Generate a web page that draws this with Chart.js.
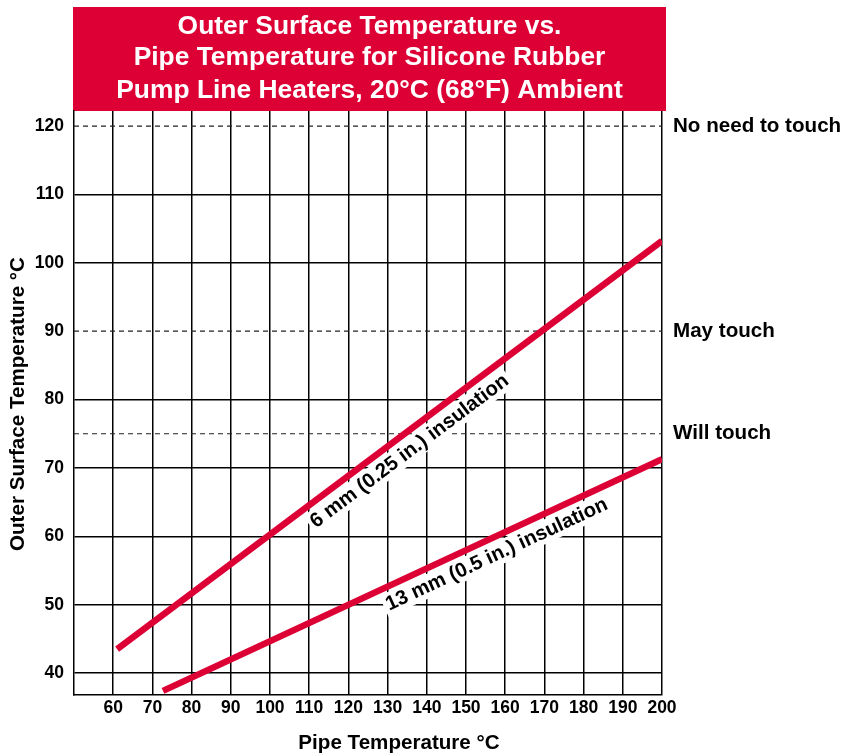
<!DOCTYPE html>
<html><head><meta charset="utf-8">
<script src="https://cdn.jsdelivr.net/npm/chart.js@4"></script>
<style>html,body{margin:0;padding:0;background:#fff}#wrap{width:843px;height:755px;position:relative}</style>
</head><body><div id="wrap"><canvas id="c"></canvas></div>
<script>
const titleLines = ["Outer Surface Temperature vs.", "Pipe Temperature for Silicone Rubber", "Pump Line Heaters, 20°C (68°F) Ambient"];
const xTitle = "Pipe Temperature °C";
const yTitle = "Outer Surface Temperature °C";
const xTicks = [60,70,80,90,100,110,120,130,140,150,160,170,180,190,200];
const yTicks = [40,50,60,70,80,90,100,110,120];
const pipeTemp6 = [61, 200];
const surface6 = [43.5, 103.2];
const pipeTemp13 = [72.7, 200];
const surface13 = [37.4, 71.3];
const seriesLabels = ["6 mm (0.25 in.) insulation", "13 mm (0.5 in.) insulation"];
const labelAt = [133, 156];
const refLevels = [120, 90, 75];
const refLabels = ["No need to touch", "May touch", "Will touch"];

const RED = '#dc0035';
const FONT = '"Liberation Sans", Arial, Helvetica, sans-serif';

function pts(xs, ys){ return xs.map((x,i)=>({x:x, y:ys[i]})); }
const refDatasets = refLevels.map(v => ({
  data: [{x:50,y:v},{x:200,y:v}], borderColor:'#222', borderWidth:1.2,
  borderDash:[5,4], pointRadius:0, order:2
}));

const overlay = {
  id:'overlay',
  beforeDraw(chart){
    const c = chart.ctx, a = chart.chartArea;
    c.save();
    c.fillStyle = RED;
    c.fillRect(a.left - 1, 7, a.right - a.left + 5, 104);
    c.fillStyle = '#fff';
    c.font = 'bold 26.4px ' + FONT;
    c.textAlign = 'center'; c.textBaseline = 'alphabetic';
    const cx = (a.left + a.right + 3) / 2;
    [33.5, 65.3, 97.5].forEach((y,i)=> c.fillText(titleLines[i], cx, y));
    c.restore();
  },
  afterDraw(chart){
    const c = chart.ctx, a = chart.chartArea, xs = chart.scales.x, ys = chart.scales.y;
    c.save();
    c.fillStyle = '#000';
    c.font = 'bold 20.6px ' + FONT;
    c.textAlign = 'left'; c.textBaseline = 'middle';
    refLevels.forEach((v,i)=> c.fillText(refLabels[i], a.right + 11, ys.getPixelForValue(v)));
    c.textAlign = 'center';
    c.fillText(xTitle, 399, 743);
    c.save();
    c.translate(18, 404);
    c.rotate(-Math.PI/2);
    c.fillText(yTitle, 0, 0);
    c.restore();
    // series labels
    const series = [[pipeTemp6, surface6], [pipeTemp13, surface13]];
    series.forEach((s,i)=>{
      const [xv, yv] = s;
      const x0 = xs.getPixelForValue(xv[0]), y0 = ys.getPixelForValue(yv[0]);
      const x1 = xs.getPixelForValue(xv[1]), y1 = ys.getPixelForValue(yv[1]);
      const ang = Math.atan2(y1 - y0, x1 - x0);
      const lx = labelAt[i];
      const ly = yv[0] + (yv[1]-yv[0]) * (lx - xv[0]) / (xv[1]-xv[0]);
      const px = xs.getPixelForValue(lx), py = ys.getPixelForValue(ly);
      c.save();
      c.translate(px, py);
      c.rotate(ang);
      c.font = 'bold 20.3px ' + FONT;
      const w = c.measureText(seriesLabels[i]).width;
      c.fillStyle = '#fff';
      c.fillRect(-w/2 - 3, 5, w + 6, 23);
      c.fillStyle = '#000';
      c.textAlign = 'center'; c.textBaseline = 'middle';
      c.fillText(seriesLabels[i], 0, 17);
      c.restore();
    });
    c.restore();
  }
};

const gridColor = ctx => (ctx.tick && (ctx.tick.value === 120 || ctx.tick.value === 90)) ? 'rgba(0,0,0,0)' : '#000';

new Chart(document.getElementById('c'), {
  type: 'line',
  data: { datasets: [
    { data: pts(pipeTemp6, surface6), borderColor: RED, borderWidth: 6.5, pointRadius: 0, borderCapStyle:'butt', order:0 },
    { data: pts(pipeTemp13, surface13), borderColor: RED, borderWidth: 6.5, pointRadius: 0, borderCapStyle:'butt', order:0 },
    ...refDatasets
  ]},
  options: {
    responsive: true, maintainAspectRatio: false, animation: false,
    layout: { padding: { top: 111, right: 181, left: 0, bottom: 0 } },
    plugins: { legend: { display: false }, tooltip: { enabled: false }, title: { display: false } },
    scales: {
      x: {
        type: 'linear', min: 50, max: 200,
        afterBuildTicks: s => { s.ticks = xTicks.map(v => ({ value: v })); },
        afterFit: s => { s.height = 60; },
        grid: { color: '#000', lineWidth: 1.5, drawTicks: false },
        border: { color: '#000', width: 1.5 },
        ticks: { color: '#000', padding: 3, autoSkip: false, maxRotation: 0, font: { family: FONT, weight: 'bold', size: 17.5 } }
      },
      y: {
        type: 'linear', min: 36.8, max: 122.2,
        afterBuildTicks: s => { s.ticks = yTicks.map(v => ({ value: v })); },
        afterFit: s => { s.width = 74; },
        grid: { color: gridColor, lineWidth: 1.5, drawTicks: false },
        border: { color: '#000', width: 1.5 },
        ticks: { color: '#000', padding: 10, autoSkip: false, font: { family: FONT, weight: 'bold', size: 17.5 } }
      }
    }
  },
  plugins: [overlay]
});
</script></body></html>
